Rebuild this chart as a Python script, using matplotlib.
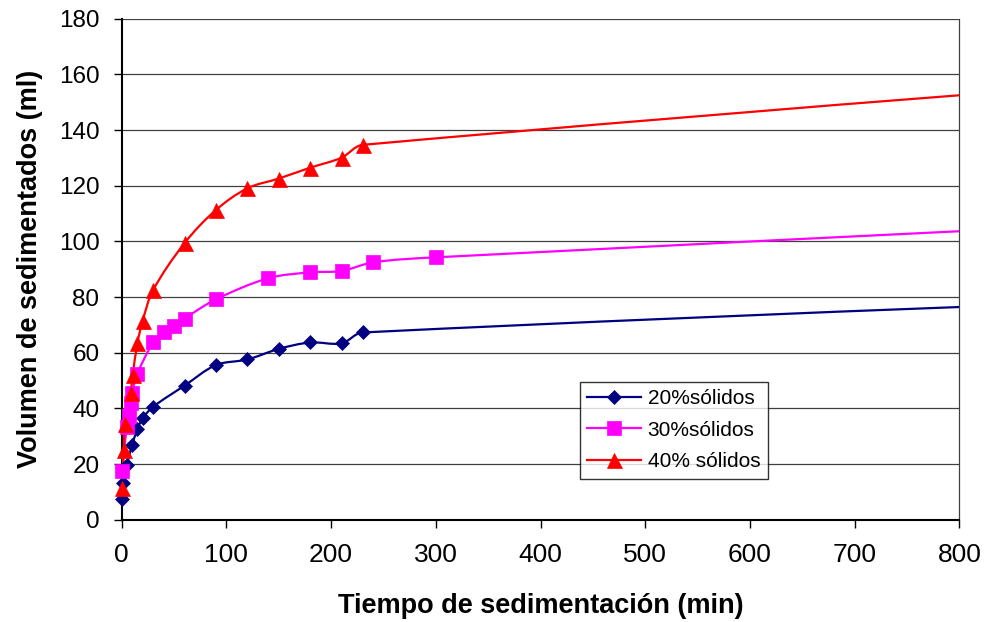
import numpy as np
import matplotlib
matplotlib.use('Agg')
import matplotlib.pyplot as plt
from matplotlib.path import Path
from matplotlib.patches import PathPatch
from matplotlib.lines import Line2D

plt.rcParams['font.family'] = ['Liberation Sans', 'DejaVu Sans']

# Ensayo de sedimentación: tiempo (min) y volumen sedimentado (ml)
# El último punto de cada serie (1440 min) queda fuera del eje visible
t_20 = [0, 1, 5, 10, 15, 20, 30, 60, 90, 120, 150, 180, 210, 230, 1440]
v_20 = [7.5, 13.2, 19.7, 27.0, 32.6, 36.5, 40.6, 48.2, 55.6, 57.6, 61.4, 63.7, 63.4, 67.3, 85.8]

t_30 = [0, 5, 7, 8.5, 10, 15, 30, 40, 50, 60, 90, 140, 180, 210, 240, 300, 1440]
v_30 = [17.6, 33.5, 37.4, 42.0, 45.7, 52.5, 63.7, 67.5, 69.5, 72.3, 79.2, 86.8, 88.9, 89.4, 92.5, 94.3, 115.5]

t_40 = [0.5, 2, 3, 8.5, 10.5, 15, 20, 30, 60, 90, 120, 150, 180, 210, 230, 1440]
v_40 = [11.3, 25.1, 34.4, 45.5, 52.0, 63.4, 71.5, 82.5, 99.4, 111.3, 119.1, 122.6, 126.5, 130.1, 134.7, 171.5]

labels = ['20%sólidos', '30%sólidos', '40% sólidos']
colors = ['#000080', '#FF00FF', '#FF0000']
markers = ['D', 's', '^']
msizes = [7.6, 9.6, 10.8]

x_ticks = list(range(0, 801, 100))
y_ticks = list(range(0, 181, 20))


def smooth_path(ax, x, y):
    """Curva suavizada (Bezier cúbica, parametrización por cuerda)."""
    pts = np.column_stack([x, y]).astype(float)
    disp = ax.transData.transform(pts)
    d = np.hypot(*np.diff(disp, axis=0).T)
    t = np.concatenate([[0.0], np.cumsum(d)])
    n = len(pts)
    m = np.zeros_like(pts)
    for i in range(n):
        if i == 0:
            m[i] = (pts[1] - pts[0]) / (t[1] - t[0])
        elif i == n - 1:
            m[i] = (pts[-1] - pts[-2]) / (t[-1] - t[-2])
        else:
            m[i] = (pts[i + 1] - pts[i - 1]) / (t[i + 1] - t[i - 1])
    verts = [pts[0]]
    codes = [Path.MOVETO]
    for i in range(n - 1):
        h = t[i + 1] - t[i]
        verts += [pts[i] + m[i] * h / 3, pts[i + 1] - m[i + 1] * h / 3, pts[i + 1]]
        codes += [Path.CURVE4] * 3
    return Path(verts, codes)


fig = plt.figure(figsize=(9.87, 6.22), dpi=100)
ax = fig.add_axes([0.1233, 0.1643, 0.8487, 0.8055])
ax.set_xlim(0, 800)
ax.set_ylim(0, 180)

series = [(t_20, v_20), (t_30, v_30), (t_40, v_40)]
handles = []
for (tx, vy), lab, col, mk, ms in zip(series, labels, colors, markers, msizes):
    ax.add_patch(PathPatch(smooth_path(ax, tx, vy), facecolor='none',
                           edgecolor=col, lw=1.6, zorder=3))
    # marcadores sólo dentro del rango visible, sin recortar en el eje
    vis = [i for i, xv in enumerate(tx) if xv <= 800]
    ax.plot([tx[i] for i in vis], [vy[i] for i in vis], linestyle='none',
            marker=mk, markersize=ms, color=col, markeredgecolor=col,
            markeredgewidth=0.5, zorder=4, clip_on=False)
    handles.append(Line2D([], [], color=col, lw=1.6, marker=mk, markersize=ms,
                          markeredgecolor=col, markeredgewidth=0.5, label=lab))

ax.set_xticks(x_ticks)
ax.set_yticks(y_ticks)
ax.tick_params(axis='x', labelsize=19, length=6, width=1, pad=11, direction='out')
ax.tick_params(axis='y', labelsize=17.5, length=6, width=1, pad=10, direction='out')
ax.grid(True, axis='y', color='#404040', lw=0.9)
ax.set_axisbelow(True)
for side in ['left', 'bottom']:
    ax.spines[side].set_linewidth(1.5)
    ax.spines[side].set_color('black')
ax.spines['top'].set_visible(False)
ax.spines['right'].set_color('#404040')
ax.spines['right'].set_linewidth(0.9)

ax.set_xlabel('Tiempo de sedimentación (min)', fontsize=19.5, fontweight='bold')
ax.set_ylabel('Volumen de sedimentados (ml)', fontsize=19.5, fontweight='bold')
ax.xaxis.label.set_va('center')
ax.yaxis.label.set_va('center')
ax.yaxis.label.set_ha('center')
ax.xaxis.set_label_coords(0.5, -0.172)
ax.yaxis.set_label_coords(-0.109, 0.5)

leg = ax.legend(handles=handles, loc='upper left', bbox_to_anchor=(0.5876, 0.3859),
                bbox_transform=fig.transFigure, borderaxespad=0, fontsize=15,
                frameon=True, fancybox=False, handlelength=2.6, handletextpad=0.3,
                labelspacing=0.6, borderpad=0.35)
leg.get_frame().set_edgecolor('black')
leg.get_frame().set_linewidth(1.0)

fig.savefig('out.png', dpi=100)
